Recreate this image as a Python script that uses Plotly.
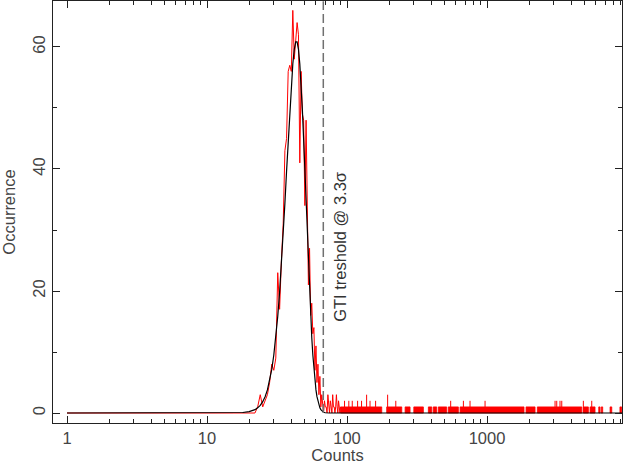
import math
import plotly.graph_objects as go

# ---------------- data ----------------
# red histogram: occurrences per integer count (peak region)
hist_counts = [1, 17, 18, 19, 20, 21, 22, 23, 24, 25, 26, 27, 28, 29, 30, 31, 32, 33, 34, 35,
               36, 37, 38, 39, 40, 41, 42, 43, 44, 45, 46, 47, 48, 49, 50, 51, 52, 53, 54, 55,
               56, 57, 58, 59, 60, 61, 62, 63, 64, 65, 66, 67, 68, 69, 70, 71, 72, 73, 74, 75,
               76, 77, 78, 79, 80, 81, 82, 83, 84, 85, 86, 87, 88, 89, 90]
hist_occ = [0, 0, 0, 0, 0, 0, 0, 1, 3, 1, 2, 3, 5, 8, 7, 9, 23, 17, 25, 31,
            43, 45, 56, 57, 56, 66, 58, 61, 64, 62, 41, 56, 49, 48, 34, 48, 31, 21, 27, 16,
            18, 13, 14, 7, 11, 5, 8, 3, 6, 1, 3, 1, 0, 2, 1, 1, 0, 3, 1, 0,
            2, 1, 0, 3, 1, 1, 0, 1, 3, 1, 0, 2, 1, 0, 1]

# tail: count ranges where the histogram is densely filled at 1 occurrence
band_start = [90, 192, 260, 300, 381, 413, 449, 529, 642, 1900, 2287, 4875, 5444, 6280, 6550, 7565, 8900]
band_end = [177, 246, 282, 351, 403, 437, 515, 624, 1837, 2203, 4747, 5293, 5907, 6416, 6700, 7780, 9150]

# tail: isolated taller bins
spike_counts = [96, 103, 109, 119, 127, 138, 146, 160, 195, 223, 550, 678, 756, 968, 3061, 3147, 3321, 3417, 4875, 5596]
spike_occ = [2, 2, 2, 2, 2, 3, 2, 2, 3, 2, 2, 2, 2, 2, 2, 2, 2, 2, 2, 2]

# black fitted curve
fit_counts = [1, 14, 16, 18, 20, 21, 22, 23, 24, 25, 26, 27, 28, 29, 30, 31, 32, 33, 34, 35,
              36, 37, 38, 39, 40, 41, 42, 43, 44, 45, 46, 47, 48, 49, 50, 51, 52, 53, 54, 55,
              56, 57, 58, 59, 60, 61, 62, 63, 64, 65, 66, 67, 68, 70, 72, 75, 9200]
fit_occ = [0, 0.01, 0.03, 0.08, 0.22, 0.35, 0.55, 0.84, 1.26, 1.86, 2.68, 3.79, 5.25, 7.14, 9.50,
           12.39, 15.82, 19.81, 24.28, 29.18, 34.36, 39.64, 44.80, 49.61, 53.83, 57.23, 59.61,
           60.84, 60.84, 59.61, 57.23, 53.83, 49.61, 44.80, 39.64, 34.36, 29.18, 24.28, 19.81,
           15.82, 12.39, 9.50, 7.14, 5.25, 3.79, 2.68, 1.86, 1.26, 0.84, 0.55, 0.35, 0.22, 0.13,
           0.04, 0.01, 0, 0]

threshold = 67.7          # GTI threshold (counts)
threshold_span = [0, 67.5]
x_major = [1, 10, 100, 1000]
x_major_text = ["1", "10", "100", "1000"]

FONT = "Liberation Sans"
AXC = "#222222"
TXC = "#444444"

fig = go.Figure()

# red histogram in the peak region
fig.add_trace(go.Scatter(x=hist_counts, y=hist_occ, mode="lines",
                         line=dict(color="#ff0000", width=1), hoverinfo="skip"))

# dense tail bands (filled 0..1)
bx, by = [], []
for a, b in zip(band_start, band_end):
    bx += [a, a, b, b, a, None]
    by += [0, 1, 1, 0, 0, None]
fig.add_trace(go.Scatter(x=bx, y=by, mode="lines", fill="toself", fillcolor="#ff0000",
                         line=dict(color="#ff0000", width=0.8), hoverinfo="skip"))

# taller isolated tail bins
sx, sy = [], []
for c, h in zip(spike_counts, spike_occ):
    sx += [c, c, None]
    sy += [0, h, None]
fig.add_trace(go.Scatter(x=sx, y=sy, mode="lines",
                         line=dict(color="#ff0000", width=1), hoverinfo="skip"))

# black fit
fig.add_trace(go.Scatter(x=fit_counts, y=fit_occ, mode="lines",
                         line=dict(color="#000000", width=1.2), hoverinfo="skip"))

# threshold line
fig.add_trace(go.Scatter(x=[threshold, threshold], y=threshold_span, mode="lines",
                         line=dict(color="#707070", width=1.5, dash="9px,4px"), hoverinfo="skip"))

minor_x = [m * d for d in (1, 10, 100, 1000) for m in range(2, 10)]

fig.update_layout(
    width=624, height=464,
    margin=dict(l=53, r=2, t=1, b=41),
    paper_bgcolor="white", plot_bgcolor="white",
    showlegend=False,
    font=dict(family=FONT, size=16, color=TXC),
    xaxis=dict(
        type="log", range=[-0.1, 3.964], automargin=False,
        showgrid=False, zeroline=False,
        showline=True, linecolor=AXC, linewidth=1, mirror="allticks",
        ticks="inside", ticklen=7, tickwidth=1, tickcolor=AXC,
        tickvals=x_major, ticktext=x_major_text,
        tickfont=dict(family=FONT, size=16.5, color=TXC),
        minor=dict(tickvals=minor_x, ticks="inside", ticklen=4, tickwidth=1, tickcolor=AXC, showgrid=False),
        title=dict(text="Counts", font=dict(family=FONT, size=16.5, color=TXC), standoff=2),
    ),
    yaxis=dict(
        range=[-1.64, 67.54], automargin=False,
        showgrid=False, zeroline=False,
        showline=True, linecolor=AXC, linewidth=1, mirror="allticks",
        ticks="inside", ticklen=7, tickwidth=1, tickcolor=AXC,
        tickvals=[0, 20, 40, 60], tickangle=-90,
        tickfont=dict(family=FONT, size=16.5, color=TXC),
        minor=dict(dtick=10, ticks="inside", ticklen=4, tickwidth=1, tickcolor=AXC, showgrid=False),
        title=dict(text="Occurrence", font=dict(family=FONT, size=16.5, color=TXC), standoff=10),
    ),
    annotations=[dict(
        text="GTI treshold @ 3.3σ", xref="paper", yref="paper",
        x=0.503, y=0.418, textangle=-90, showarrow=False,
        font=dict(family=FONT, size=16.5, color="#333333"),
    )],
)

fig.write_html("out.html", config={"displayModeBar": False},
               post_script="document.body.style.margin='0';document.body.style.overflow='hidden';")
